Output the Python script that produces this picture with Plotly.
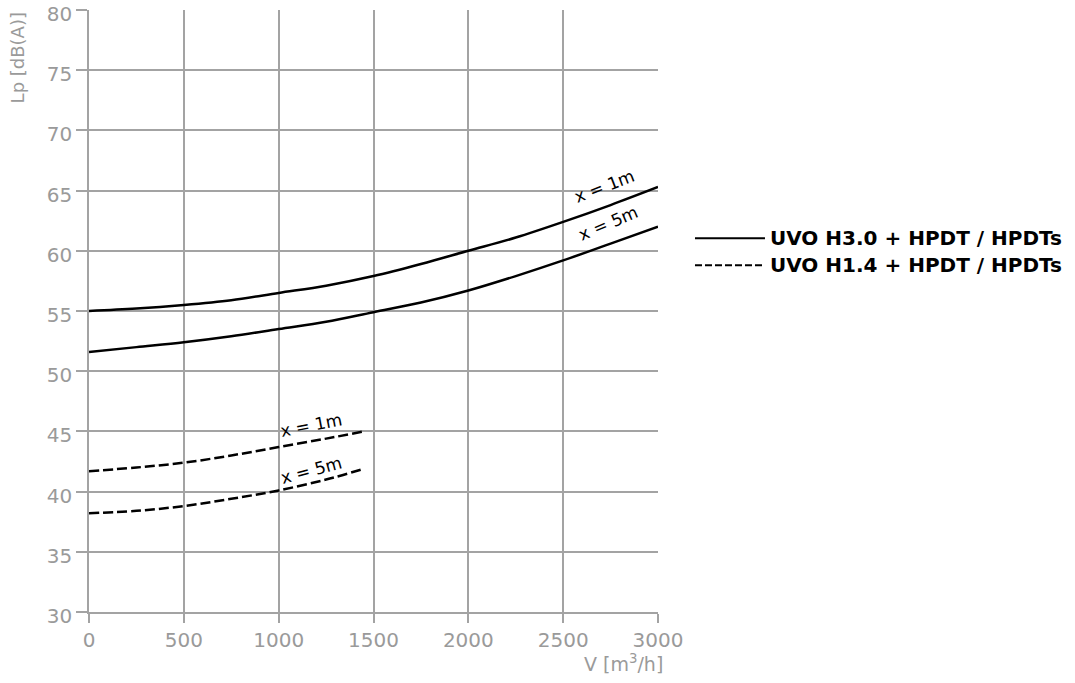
import plotly.graph_objects as go

flow_h30 = [0, 250, 500, 750, 1000, 1250, 1500, 1750, 2000, 2250, 2500, 2750, 3000]
lp_h30_1m = [55.0, 55.2, 55.5, 55.9, 56.5, 57.1, 57.9, 58.9, 60.0, 61.1, 62.4, 63.8, 65.3]
lp_h30_5m = [51.6, 52.0, 52.4, 52.9, 53.5, 54.1, 54.9, 55.7, 56.7, 57.9, 59.2, 60.6, 62.0]

flow_h14 = [0, 250, 500, 750, 1000, 1250, 1450]
lp_h14_1m = [41.7, 42.0, 42.4, 43.0, 43.7, 44.4, 45.0]
lp_h14_5m = [38.2, 38.4, 38.8, 39.4, 40.1, 41.0, 41.9]

x_ticks = [0, 500, 1000, 1500, 2000, 2500, 3000]
y_ticks = [30, 35, 40, 45, 50, 55, 60, 65, 70, 75, 80]

legend_names = ["UVO H3.0 + HPDT / HPDTs", "UVO H1.4 + HPDT / HPDTs"]

FONT = "DejaVu Sans, Verdana, sans-serif"
GRID = "#a3a3a3"
TICKC = "#9a9a9a"
DASH = "10px,4px"

fig = go.Figure()
for x, y, dash in [(flow_h30, lp_h30_1m, "solid"), (flow_h30, lp_h30_5m, "solid"),
                   (flow_h14, lp_h14_1m, DASH), (flow_h14, lp_h14_5m, DASH)]:
    fig.add_trace(go.Scatter(x=x, y=y, mode="lines",
                             line=dict(color="black", width=2.5, dash=dash, shape="spline"),
                             showlegend=False, hoverinfo="skip"))

labels = [
    (2720, 65.4, -21, "x = 1m"),
    (2740, 62.3, -23, "x = 5m"),
    (1175, 45.5, -11, "x = 1m"),
    (1175, 41.8, -15, "x = 5m"),
]
for lx, ly, ang, txt in labels:
    fig.add_annotation(x=lx, y=ly, text=txt, showarrow=False, textangle=ang,
                       font=dict(family=FONT, size=17, color="black"))

# legend
for i, (name, dash) in enumerate(zip(legend_names, ["solid", "7px,3px"])):
    yy = 0.621 - i * 0.045
    fig.add_shape(type="line", xref="paper", yref="paper", x0=1.065, x1=1.188, y0=yy, y1=yy,
                  line=dict(color="black", width=2, dash=dash))
    fig.add_annotation(xref="paper", yref="paper", x=1.193, y=yy, text=f"<b>{name}</b>", showarrow=False,
                       xanchor="left", yanchor="middle", font=dict(family=FONT, size=20, color="black"))

fig.add_annotation(xref="paper", yref="paper", x=-0.125, y=1.0, text="Lp [dB(A)]", textangle=-90,
                   showarrow=False, xanchor="center", yanchor="top",
                   font=dict(family=FONT, size=18, color=TICKC))
fig.add_annotation(xref="paper", yref="paper", x=1.0123, y=-0.085, text="V [m<sup>3</sup>/h]",
                   showarrow=False, xanchor="right", yanchor="middle",
                   font=dict(family=FONT, size=19, color=TICKC))

fig.update_xaxes(range=[0, 3000], tickvals=x_ticks, showgrid=True, gridcolor=GRID, gridwidth=1.5,
                 showline=True, linecolor=GRID, linewidth=1.5, ticks="outside", ticklen=9,
                 tickcolor=GRID, tickwidth=1.5, zeroline=False, automargin=False,
                 ticklabeloverflow="allow",
                 tickfont=dict(family=FONT, size=20, color=TICKC))
fig.update_yaxes(range=[30, 80], tickvals=y_ticks, showgrid=True, gridcolor=GRID, gridwidth=1.5,
                 showline=True, linecolor=GRID, linewidth=1.5, ticks="outside", ticklen=11,
                 tickcolor=GRID, tickwidth=1.5, zeroline=False, automargin=False,
                 ticklabeloverflow="allow", ticklabelshift=4,
                 tickfont=dict(family=FONT, size=20, color=TICKC))

fig.update_layout(width=1075, height=683, margin=dict(l=89, r=417, t=10, b=71, autoexpand=False),
                  plot_bgcolor="white", paper_bgcolor="white", showlegend=False)

fig.write_html("out.html", config={"displayModeBar": False},
               post_script="document.body.style.margin='0';document.body.style.overflow='hidden';")
